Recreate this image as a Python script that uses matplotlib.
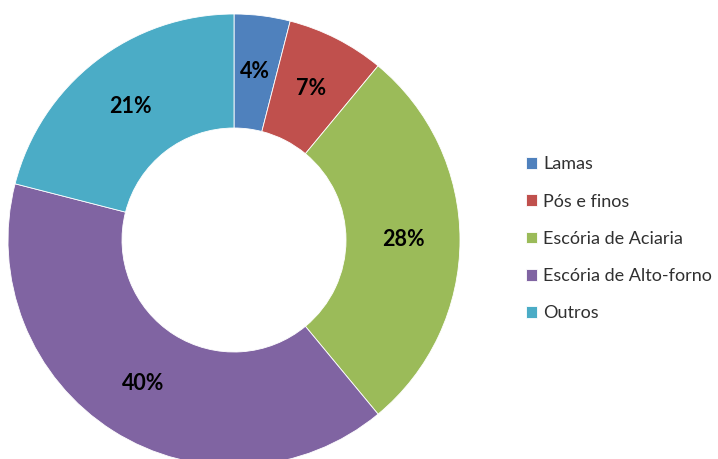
import matplotlib
matplotlib.use("Agg")
import matplotlib.pyplot as plt

# share of steel-plant residues
labels = ["Lamas", "Pós e finos", "Escória de Aciaria", "Escória de Alto-forno", "Outros"]
values = [4, 7, 28, 40, 21]
colors = ["#4F81BD", "#C0504D", "#9BBB59", "#8064A2", "#4BACC6"]

plt.rcParams["font.family"] = ["Lato", "DejaVu Sans"]

fig = plt.figure(figsize=(7.18, 4.59), dpi=100)
ax = fig.add_axes([0, 0, 1, 1])

radius = 226
wedges, texts, autotexts = ax.pie(
    values,
    colors=colors,
    startangle=90,
    counterclock=False,
    center=(234, 219),
    radius=radius,
    frame=True,
    autopct=lambda p: f"{p:.0f}%",
    pctdistance=0.75,
    wedgeprops=dict(width=114, edgecolor="white", linewidth=0.6),
    textprops=dict(fontsize=15.5, fontweight="bold", color="black"),
)
ax.set_xlim(0, 718)
ax.set_ylim(0, 459)
ax.set_aspect("equal")
ax.axis("off")

leg = ax.legend(
    wedges, labels,
    loc="upper left",
    bbox_to_anchor=(0.71, 0.695),
    frameon=False,
    fontsize=13,
    handlelength=0.6,
    handleheight=0.6,
    handletextpad=0.35,
    labelspacing=1.18,
)
for t in leg.get_texts():
    t.set_color("#303030")

fig.savefig("out.png", dpi=100)
